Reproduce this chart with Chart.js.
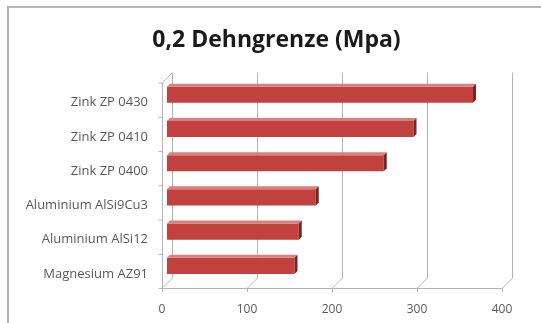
<!DOCTYPE html>
<html lang="de">
<head>
<meta charset="UTF-8">
<title>0,2 Dehngrenze</title>
<script src="https://cdn.jsdelivr.net/npm/chart.js"></script>
<style>
    body { margin: 0; background: #fff; overflow: hidden; }
    .rahmen {
        position: absolute; left: 7px; top: 6px; width: 600px; height: 400px;
        border-left: 2px solid #b4b4b4; border-top: 2px solid #b4b4b4;
    }
    #grafico { position: absolute; left: 0; top: 0; }
</style>
</head>
<body>
<div class="rahmen"></div>
<canvas id="grafico" width="541" height="323"></canvas>

<script>
    // Daten
    const werkstoffe = ['Zink ZP 0430', 'Zink ZP 0410', 'Zink ZP 0400', 'Aluminium AlSi9Cu3', 'Aluminium AlSi12', 'Magnesium AZ91'];
    const dehngrenze = [360, 290, 255, 175, 155, 150];
    const achseWerte = [0, 100, 200, 300, 400];

    const tiefe = 5; // halbe Tiefe vom 3D-Effekt

    // Wände und Gitter in 3D-Optik
    const wandPlugin = {
        id: 'wand',
        afterLayout(chart) {
            // Titel etwas nach rechts, wie im Original
            chart.titleBlock.left += 26;
        },
        beforeDatasetsDraw(chart) {
            const ctx = chart.ctx;
            const xs = chart.scales.x;
            const ys = chart.scales.y;
            const top = chart.chartArea.top, bottom = chart.chartArea.bottom;
            ctx.save();
            ctx.strokeStyle = '#b4b4b4';
            ctx.lineWidth = 1;
            achseWerte.forEach(function (v) {
                const px = Math.round(xs.getPixelForValue(v)) + 0.5;
                ctx.beginPath();
                ctx.moveTo(px + tiefe, top - tiefe);
                ctx.lineTo(px + tiefe, bottom - tiefe);
                ctx.lineTo(px - tiefe, bottom + tiefe);
                ctx.lineTo(px - tiefe, bottom + tiefe + 4);
                ctx.stroke();
            });
            // Vorderkante Boden
            const x0 = Math.round(xs.getPixelForValue(0)) + 0.5;
            const x4 = Math.round(xs.getPixelForValue(400)) + 0.5;
            ctx.beginPath();
            ctx.moveTo(x0 - tiefe, bottom + tiefe + 0.5);
            ctx.lineTo(x4 - tiefe, bottom + tiefe + 0.5);
            ctx.stroke();
            // linke Wand vorne
            ctx.beginPath();
            ctx.moveTo(x0 + tiefe, top - tiefe);
            ctx.lineTo(x0 - tiefe, top + tiefe);
            ctx.lineTo(x0 - tiefe, bottom + tiefe);
            ctx.stroke();
            // Kategorie-Striche
            for (let i = 0; i <= werkstoffe.length; i++) {
                const py = ys.getPixelForValue(i - 0.5);
                ctx.beginPath();
                ctx.moveTo(x0 - tiefe - 4, py + tiefe + 0.5);
                ctx.lineTo(x0 - tiefe, py + tiefe + 0.5);
                ctx.stroke();
            }
            ctx.restore();
        },
        afterDatasetsDraw(chart) {
            const ctx = chart.ctx;
            const e = 3;
            ctx.save();
            chart.getDatasetMeta(0).data.forEach(function (bar) {
                const h = bar.height;
                const oben = bar.y - h / 2, unten = bar.y + h / 2;
                // Deckfläche
                ctx.fillStyle = '#d9807d';
                ctx.beginPath();
                ctx.moveTo(bar.base, oben);
                ctx.lineTo(bar.x, oben);
                ctx.lineTo(bar.x + e, oben - e);
                ctx.lineTo(bar.base + e, oben - e);
                ctx.closePath();
                ctx.fill();
                // Stirnseite
                ctx.fillStyle = '#7a2523';
                ctx.beginPath();
                ctx.moveTo(bar.x, oben);
                ctx.lineTo(bar.x + e, oben - e);
                ctx.lineTo(bar.x + e, unten - e);
                ctx.lineTo(bar.x, unten);
                ctx.closePath();
                ctx.fill();
            });
            ctx.restore();
        }
    };

    function balkenFarbe(context) {
        const chart = context.chart;
        const el = context.element;
        if (!chart.chartArea || !el || !Number.isFinite(el.y) || !Number.isFinite(el.height)) return '#c0413d';
        const g = chart.ctx.createLinearGradient(0, el.y - el.height / 2, 0, el.y + el.height / 2);
        g.addColorStop(0, '#c9524e');
        g.addColorStop(0.6, '#c0413d');
        g.addColorStop(1, '#8e2b29');
        return g;
    }

    new Chart(document.getElementById('grafico'), {
        type: 'bar',
        data: {
            labels: werkstoffe,
            datasets: [{
                label: '0,2 Dehngrenze (Mpa)',
                data: dehngrenze,
                backgroundColor: balkenFarbe,
                borderWidth: 0,
                barPercentage: 0.47,
                categoryPercentage: 1
            }]
        },
        options: {
            indexAxis: 'y',
            responsive: false,
            animation: false,
            layout: { padding: { left: 20, right: 34, top: 0, bottom: 0 } },
            plugins: {
                legend: { display: false },
                tooltip: { enabled: false },
                title: {
                    display: true,
                    text: '0,2 Dehngrenze (Mpa)',
                    color: '#1a1a1a',
                    font: { family: 'Open Sans', size: 23, weight: 'bold', lineHeight: 1.2 },
                    padding: { top: 27, bottom: 23 }
                }
            },
            scales: {
                x: {
                    min: 0,
                    max: 400,
                    ticks: {
                        stepSize: 100,
                        padding: 11,
                        labelOffset: -5,
                        color: '#595959',
                        font: { family: 'Open Sans', size: 12 }
                    },
                    grid: { display: false },
                    border: { display: false },
                    afterFit: function (scale) { scale.height = 40; }
                },
                y: {
                    ticks: {
                        padding: 11,
                        labelOffset: 8,
                        color: '#595959',
                        font: { family: 'Open Sans', size: 13 }
                    },
                    grid: { display: false },
                    border: { display: false },
                    afterFit: function (scale) { scale.width = 147; }
                }
            }
        },
        plugins: [wandPlugin]
    });
</script>
</body>
</html>
